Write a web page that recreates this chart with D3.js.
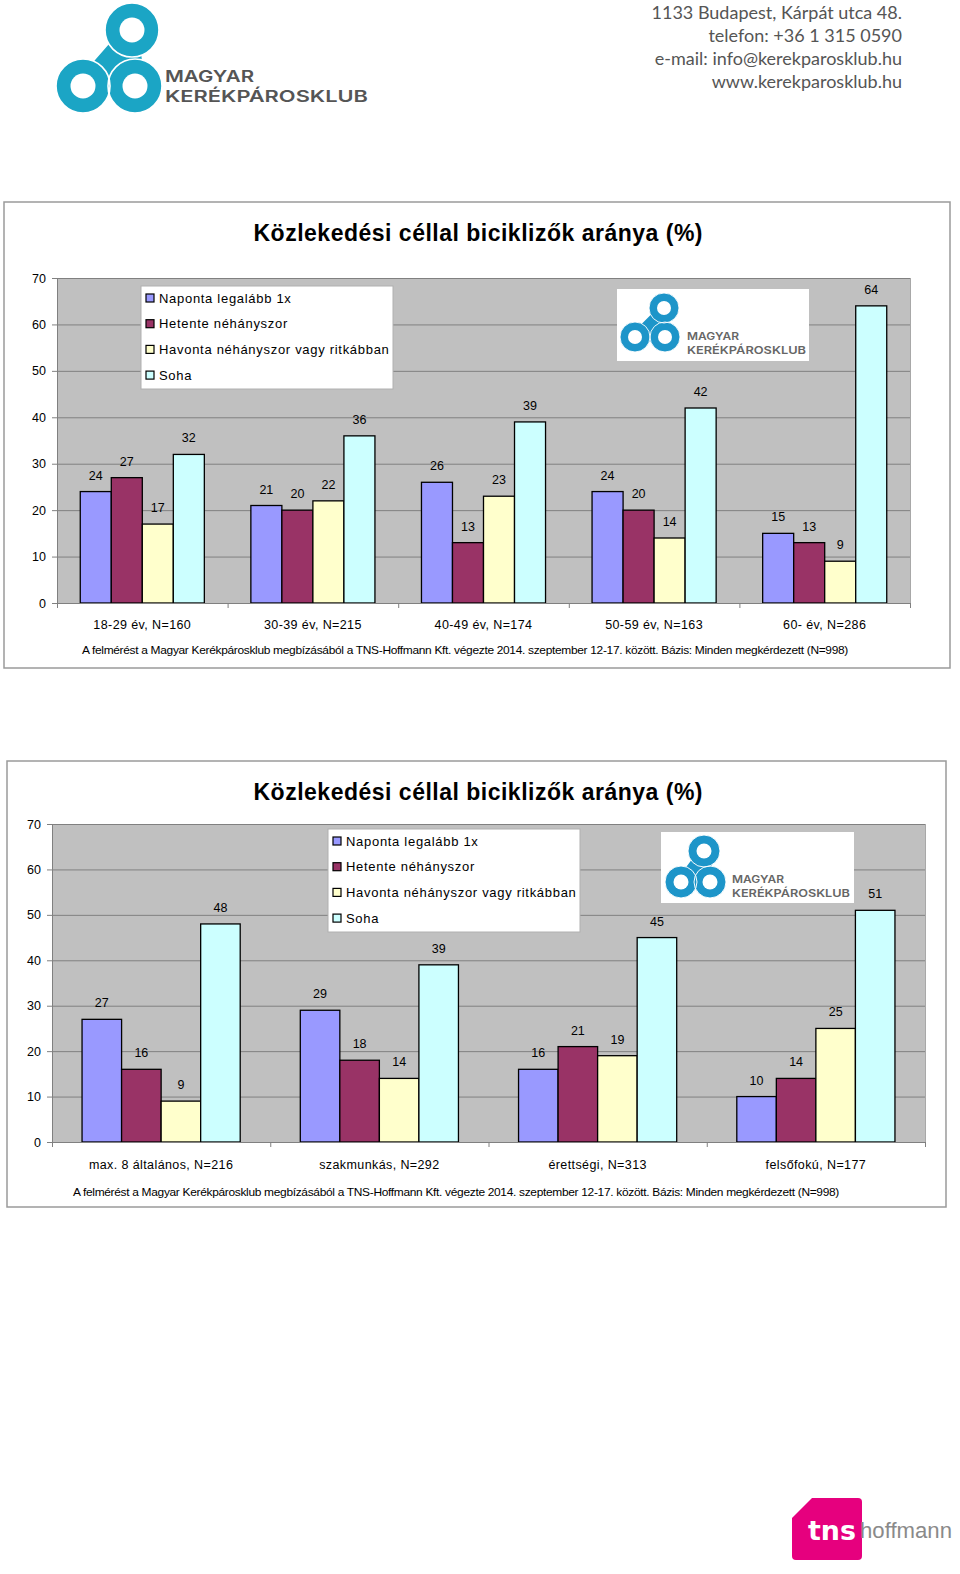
<!DOCTYPE html>
<html><head><meta charset="utf-8">
<script src="https://cdn.jsdelivr.net/npm/d3@7"></script>
<style>body{margin:0;background:#fff} svg{display:block}</style>
</head><body>
<svg id="page" width="960" height="1574"></svg>
<script>
// ---------- DATA ----------
const seriesNames = ["Naponta legalább 1x", "Hetente  néhányszor", "Havonta néhányszor vagy ritkábban", "Soha"];
const seriesColors = ["#9999ff", "#993366", "#ffffcc", "#ccffff"];
const yTicks = [0, 10, 20, 30, 40, 50, 60, 70];

const ageCategories = ["18-29 év, N=160", "30-39 év, N=215", "40-49 év, N=174", "50-59 év, N=163", "60- év, N=286"];
const ageNaponta = [24, 21, 26, 24, 15];
const ageHetente = [27, 20, 13, 20, 13];
const ageHavonta = [17, 22, 23, 14, 9];
const ageSoha = [32, 36, 39, 42, 64];

const eduCategories = ["max. 8 általános, N=216", "szakmunkás, N=292", "érettségi, N=313", "felsőfokú, N=177"];
const eduNaponta = [27, 29, 16, 10];
const eduHetente = [16, 18, 21, 14];
const eduHavonta = [9, 14, 19, 25];
const eduSoha = [48, 39, 45, 51];

const chartTitle = "Közlekedési céllal biciklizők aránya (%)";
const footnote = "A felmérést a Magyar Kerékpárosklub megbízásából a TNS-Hoffmann Kft. végezte 2014. szeptember 12-17. között. Bázis: Minden megkérdezett (N=998)";
const addressLines = ["1133 Budapest, Kárpát utca 48.", "telefon: +36 1 315 0590", "e-mail: info@kerekparosklub.hu", "www.kerekparosklub.hu"];

// ---------- DRAWING ----------
const svg = d3.select("#page");
const FONT = "'Liberation Sans', Arial, sans-serif";

function drawLogo(g, o) {
  const lg = g.append("g");
  lg.append("path")
    .attr("d", `M${o.bl[0]},${o.bl[1]}L${o.br[0]},${o.br[1]}L${o.top[0]},${o.top[1]}Z`)
    .attr("fill", o.color).attr("stroke", o.color).attr("stroke-width", o.rOut * 0.6).attr("stroke-linejoin", "round");
  [o.bl, o.br, o.top].forEach(c => {
    lg.append("circle").attr("cx", c[0]).attr("cy", c[1]).attr("r", o.rOut).attr("fill", o.color);
  });
  [o.bl, o.br, o.top].forEach(c => {
    lg.append("circle").attr("cx", c[0]).attr("cy", c[1]).attr("r", o.rOut).attr("fill", "none")
      .attr("stroke", "#fff").attr("stroke-width", o.rOut * 0.06);
  });
  [o.bl, o.br, o.top].forEach(c => {
    lg.append("circle").attr("cx", c[0]).attr("cy", c[1]).attr("r", o.rIn).attr("fill", "#fff");
  });
  lg.append("text").attr("x", o.tx).attr("y", o.ty1).text("MAGYAR")
    .attr("font-family", "Inter, 'DejaVu Sans', sans-serif").attr("font-weight", 600)
    .attr("font-size", o.fs).attr("fill", o.textColor)
    .attr("textLength", o.w1).attr("lengthAdjust", "spacingAndGlyphs");
  lg.append("text").attr("x", o.tx).attr("y", o.ty2).text("KERÉKPÁROSKLUB")
    .attr("font-family", "Inter, 'DejaVu Sans', sans-serif").attr("font-weight", 600)
    .attr("font-size", o.fs).attr("fill", o.textColor)
    .attr("textLength", o.w2).attr("lengthAdjust", "spacingAndGlyphs");
}

// Header logo
drawLogo(svg, {bl: [83, 86], br: [135, 86], top: [132, 30], rOut: 27, rIn: 12.5, color: "#1ba5c5",
  tx: 165, ty1: 82, ty2: 102, fs: 16, w1: 89, w2: 203, textColor: "#555"});

// Address
svg.append("g").selectAll("text").data(addressLines).join("text")
  .attr("x", 902).attr("y", (d, i) => 19 + i * 23)
  .attr("text-anchor", "end")
  .attr("font-family", "Lato, 'Open Sans', sans-serif").attr("font-size", 18)
  .attr("fill", "#555").text(d => d);

function drawChart(cfg) {
  const g = svg.append("g");
  g.append("rect").attr("x", cfg.box[0]).attr("y", cfg.box[1])
    .attr("width", cfg.box[2] - cfg.box[0]).attr("height", cfg.box[3] - cfg.box[1])
    .attr("fill", "#fff").attr("stroke", "#9a9a9a").attr("stroke-width", 1.5);
  g.append("text").attr("x", cfg.titleX).attr("y", cfg.titleY).attr("text-anchor", "middle")
    .attr("font-family", FONT).attr("font-weight", "bold").attr("font-size", 23)
    .attr("textLength", cfg.titleW).attr("lengthAdjust", "spacing")
    .text(chartTitle);

  const [pl, pt, pr, pb] = cfg.plot;
  const y = d3.scaleLinear().domain([0, 70]).range([pb, pt]);
  const x0 = d3.scaleBand().domain(cfg.categories).range([pl, pr]).paddingInner(0).paddingOuter(0);
  const x1 = d3.scaleBand().domain(d3.range(seriesNames.length)).range([0, x0.bandwidth()])
    .paddingInner(0).paddingOuter(cfg.outerPad);

  g.append("rect").attr("x", pl).attr("y", pt).attr("width", pr - pl).attr("height", pb - pt)
    .attr("fill", "#c0c0c0");
  g.append("g").selectAll("line").data(yTicks.filter(t => t > 0)).join("line")
    .attr("x1", pl).attr("x2", pr).attr("y1", d => y(d) + 0.5).attr("y2", d => y(d) + 0.5)
    .attr("stroke", "#808080").attr("stroke-width", 1);
  g.append("line").attr("x1", pr + 0.5).attr("x2", pr + 0.5).attr("y1", pt).attr("y2", pb)
    .attr("stroke", "#a8a8a8");

  const yAxis = g.append("g").attr("transform", `translate(${pl},0)`)
    .call(d3.axisLeft(y).tickValues(yTicks).tickSize(5).tickPadding(cfg.yPad));
  yAxis.select(".domain").attr("stroke", "#808080");
  yAxis.selectAll(".tick line").attr("stroke", "#808080");
  yAxis.selectAll("text").attr("font-family", FONT).attr("font-size", 12.5).attr("fill", "#000");

  const groups = g.append("g").selectAll("g").data(cfg.categories).join("g")
    .attr("transform", d => `translate(${x0(d)},0)`);
  groups.each(function (cat, ci) {
    const gg = d3.select(this);
    const vals = cfg.values.map(s => s[ci]);
    gg.selectAll("rect").data(vals).join("rect")
      .attr("x", (d, si) => x1(si)).attr("width", x1.bandwidth())
      .attr("y", d => y(d)).attr("height", d => y(0) - y(d))
      .attr("fill", (d, si) => seriesColors[si]).attr("stroke", "#000").attr("stroke-width", 1.3);
    gg.selectAll("text").data(vals).join("text")
      .attr("x", (d, si) => x1(si) + x1.bandwidth() / 2).attr("y", d => y(d) - 12)
      .attr("text-anchor", "middle").attr("font-family", FONT).attr("font-size", 12.5)
      .text(d => d);
  });

  const xg = g.append("g");
  xg.append("line").attr("x1", pl).attr("x2", pr).attr("y1", pb + 0.5).attr("y2", pb + 0.5)
    .attr("stroke", "#808080");
  const bounds = d3.range(cfg.categories.length + 1).map(i => pl + i * x0.step());
  xg.selectAll("line.tk").data(bounds).join("line").attr("class", "tk")
    .attr("x1", d => d + 0.5).attr("x2", d => d + 0.5).attr("y1", pb).attr("y2", pb + 5)
    .attr("stroke", "#808080");
  xg.selectAll("text").data(cfg.categories).join("text")
    .attr("x", d => x0(d) + x0.bandwidth() / 2).attr("y", cfg.xLabelY)
    .attr("text-anchor", "middle").attr("font-family", FONT).attr("font-size", 12.5)
    .attr("letter-spacing", 0.4)
    .text(d => d);

  g.append("text").attr("x", cfg.footX).attr("y", cfg.footY)
    .attr("font-family", "'Liberation Sans Narrow', " + FONT).attr("font-size", 11.5)
    .attr("textLength", cfg.footW).attr("lengthAdjust", "spacingAndGlyphs")
    .attr("letter-spacing", -0.3)
    .text(footnote);

  const [lx, ly, lw, lh] = cfg.legend;
  const lg = g.append("g");
  lg.append("rect").attr("x", lx).attr("y", ly).attr("width", lw).attr("height", lh)
    .attr("fill", "#fff").attr("stroke", "#b0b0b0");
  const items = lg.selectAll("g").data(seriesNames).join("g")
    .attr("transform", (d, i) => `translate(${lx + 5},${ly + 12 + i * 25.7})`);
  items.append("rect").attr("x", 0).attr("y", -4).attr("width", 8).attr("height", 8)
    .attr("fill", (d, i) => seriesColors[i]).attr("stroke", "#000").attr("stroke-width", 1.2);
  items.append("text").attr("x", 13).attr("y", 4.5).attr("font-family", FONT).attr("font-size", 13)
    .attr("letter-spacing", 0.7).text(d => d);

  const [bx, by, bw, bh] = cfg.logoBox;
  g.append("rect").attr("x", bx).attr("y", by).attr("width", bw).attr("height", bh).attr("fill", "#fff");
  drawLogo(g, cfg.logo);
}

drawChart({
  box: [4, 202, 950, 668],
  titleX: 478, titleY: 241, titleW: 449,
  plot: [57, 278, 910, 603],
  categories: ageCategories,
  values: [ageNaponta, ageHetente, ageHavonta, ageSoha],
  outerPad: 0.75, yPad: 6,
  xLabelY: 629, footX: 82, footY: 654, footW: 766,
  legend: [141, 286, 252, 103],
  logoBox: [617, 289, 192, 72],
  logo: {bl: [635, 337], br: [665, 337], top: [664, 308], rOut: 15, rIn: 7, color: "#1d95c9",
    tx: 687, ty1: 340, ty2: 354, fs: 10.5, w1: 52, w2: 119, textColor: "#666"}
});

drawChart({
  box: [7, 761, 946, 1207],
  titleX: 478, titleY: 800, titleW: 449,
  plot: [52, 824, 925, 1142],
  categories: eduCategories,
  values: [eduNaponta, eduHetente, eduHavonta, eduSoha],
  outerPad: 0.76, yPad: 6,
  xLabelY: 1169, footX: 73, footY: 1196, footW: 766,
  legend: [328, 829, 252, 103],
  logoBox: [661, 832, 193, 71],
  logo: {bl: [681, 882], br: [710, 882], top: [704, 851], rOut: 16, rIn: 7.5, color: "#1d95c9",
    tx: 732, ty1: 883, ty2: 897, fs: 10.5, w1: 52, w2: 118, textColor: "#666"}
});

// TNS Hoffmann logo
const tns = svg.append("g");
tns.append("path")
  .attr("d", "M812,1498 L858,1498 Q862,1498 862,1502 L862,1556 Q862,1560 858,1560 L796,1560 Q792,1560 792,1556 L792,1518 Z")
  .attr("fill", "#e6007e");
tns.append("text").attr("x", 808).attr("y", 1540).attr("font-family", "'DejaVu Sans', sans-serif")
  .attr("font-weight", "bold").attr("font-size", 26).attr("fill", "#fff")
  .attr("textLength", 48).attr("lengthAdjust", "spacingAndGlyphs").text("tns");
tns.append("text").attr("x", 860).attr("y", 1538).attr("font-family", "'Liberation Sans Narrow', 'Liberation Sans', sans-serif")
  .attr("font-size", 22).attr("fill", "#8a8a8a")
  .attr("textLength", 92).attr("lengthAdjust", "spacingAndGlyphs").text("hoffmann");
</script>
</body></html>
